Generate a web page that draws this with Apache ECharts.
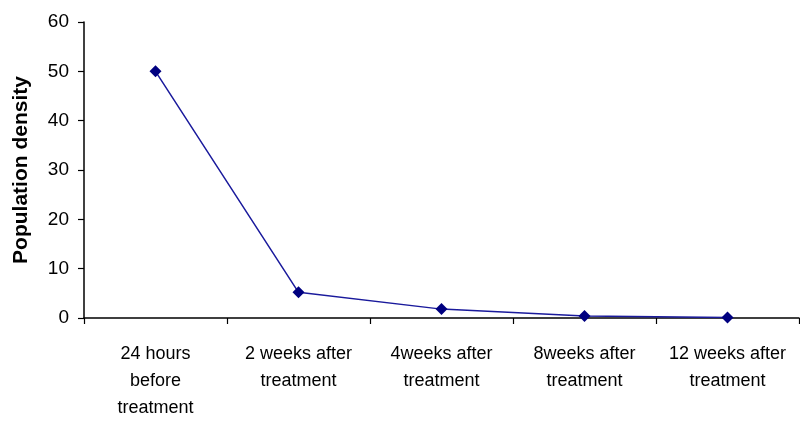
<!DOCTYPE html>
<html>
<head>
<meta charset="utf-8">
<script src="https://cdn.jsdelivr.net/npm/echarts@6/dist/echarts.min.js"></script>
<style>
html,body{margin:0;padding:0;background:#fff;}
#chart{width:800px;height:422px;}
</style>
</head>
<body>
<div id="chart"></div>
<script>
var categories = ['24 hours\nbefore\ntreatment', '2 weeks after\ntreatment', '4weeks after\ntreatment', '8weeks after\ntreatment', '12 weeks after\ntreatment'];
var densityValues = [50, 5.2, 1.8, 0.4, 0.1];
var yAxisName = 'Population density';

var chart = echarts.init(document.getElementById('chart'));
chart.setOption({
  animation: false,
  backgroundColor: '#ffffff',
  grid: { left: 84, right: 1, top: 22, bottom: 104, containLabel: false, outerBoundsMode: 'none' },
  xAxis: {
    type: 'category',
    data: categories,
    boundaryGap: true,
    axisLine: { lineStyle: { color: '#000', width: 1.5 } },
    axisTick: { show: true, length: 6, lineStyle: { color: '#000', width: 1.2 } },
    axisLabel: { color: '#000', fontFamily: 'Liberation Sans, Arial', fontSize: 18, lineHeight: 27, margin: 23, interval: 0 },
    splitLine: { show: false }
  },
  yAxis: {
    type: 'value',
    min: 0, max: 60, interval: 10,
    name: yAxisName,
    nameLocation: 'middle',
    nameGap: 52,
    nameTextStyle: { color: '#000', fontFamily: 'Liberation Sans, Arial', fontSize: 21, fontWeight: 'bold' },
    axisLine: { show: true, lineStyle: { color: '#000', width: 1.5 } },
    axisTick: { show: true, length: 6, lineStyle: { color: '#000', width: 1.2 } },
    axisLabel: { color: '#000', fontFamily: 'Liberation Sans, Arial', fontSize: 19, margin: 15 },
    splitLine: { show: false }
  },
  series: [{
    type: 'line',
    data: densityValues,
    symbol: 'diamond',
    symbolSize: 12,
    lineStyle: { color: '#1a1a9c', width: 1.5 },
    itemStyle: { color: '#000080' }
  }]
});
</script>
</body>
</html>
